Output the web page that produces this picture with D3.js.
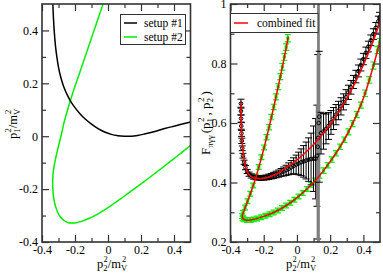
<!DOCTYPE html>
<html>
<head>
<meta charset="utf-8">
<script src="https://cdn.jsdelivr.net/npm/d3@7"></script>
<style>
  body { margin: 0; background: #fff; }
  svg { display: block; }
  svg text { font-family: "Liberation Serif", "Times New Roman", Times, "DejaVu Serif", serif !important; fill: #000; }
</style>
</head>
<body>
<div class="container"></div>
<script>
// ---- left panel: kinematic setups (p1^2 vs p2^2) ----
var setup1X = [-0.3365, -0.335, -0.333, -0.33, -0.325, -0.318, -0.31, -0.3, -0.285, -0.27, -0.25, -0.23, -0.2, -0.17, -0.14, -0.1, -0.06, -0.02, 0.02, 0.06, 0.1, 0.14, 0.18, 0.22, 0.26, 0.3, 0.35, 0.4, 0.45, 0.5];
var setup1Y = [0.56, 0.52, 0.48, 0.44, 0.39, 0.34, 0.3, 0.26, 0.22, 0.19, 0.16, 0.136, 0.108, 0.085, 0.066, 0.046, 0.029, 0.016, 0.007, 0.002, 0.0, 0.0, 0.003, 0.008, 0.014, 0.021, 0.03, 0.038, 0.046, 0.054];

var setup2X = [-0.03, -0.06, -0.09, -0.12, -0.15, -0.18, -0.21, -0.24, -0.265, -0.285, -0.305, -0.321, -0.331, -0.335, -0.334, -0.329, -0.318, -0.3, -0.275, -0.245, -0.215, -0.19, -0.16, -0.12, -0.08, -0.04, 0, 0.05, 0.1, 0.15, 0.2, 0.25, 0.3, 0.35, 0.4, 0.45, 0.5];
var setup2Y = [0.5, 0.445, 0.39, 0.335, 0.28, 0.225, 0.17, 0.11, 0.055, 0.0, -0.05, -0.095, -0.13, -0.165, -0.2, -0.235, -0.265, -0.295, -0.315, -0.326, -0.328, -0.327, -0.322, -0.312, -0.3, -0.286, -0.27, -0.248, -0.226, -0.203, -0.18, -0.157, -0.133, -0.109, -0.085, -0.06, -0.035];

// ---- right panel: form factor data, setup #1 (black) ----
var blackX = [-0.337, -0.337, -0.336, -0.335, -0.334, -0.332, -0.329, -0.325, -0.318, -0.31, -0.3, -0.288, -0.275, -0.26, -0.245, -0.23, -0.215, -0.2, -0.185, -0.17, -0.155, -0.14, -0.125, -0.11, -0.095, -0.08, -0.065, -0.05, -0.035, -0.02, -0.005, 0.01, 0.025, 0.04, 0.055, 0.07, 0.085, 0.1, 0.112,
              0.12, 0.125, 0.128, 0.131, 0.134,
              0.145, 0.16, 0.175, 0.19, 0.205, 0.22, 0.235, 0.25, 0.265, 0.28, 0.295, 0.31, 0.325, 0.34, 0.355, 0.37, 0.385, 0.4, 0.415, 0.43, 0.445, 0.46, 0.475, 0.49, 0.497];
var blackF = [0.665, 0.64, 0.615, 0.59, 0.565, 0.54, 0.515, 0.49, 0.468, 0.45, 0.437, 0.428, 0.422, 0.418, 0.416, 0.415, 0.415, 0.416, 0.417, 0.419, 0.421, 0.424, 0.427, 0.43, 0.434, 0.437, 0.441, 0.446, 0.451, 0.456, 0.46, 0.464, 0.468, 0.471, 0.474, 0.477, 0.479, 0.48, 0.48,
              0.49, 0.52, 0.55, 0.6, 0.621,
              0.566, 0.572, 0.58, 0.59, 0.602, 0.615, 0.628, 0.642, 0.656, 0.671, 0.687, 0.703, 0.72, 0.738, 0.756, 0.775, 0.795, 0.815, 0.836, 0.857, 0.878, 0.899, 0.92, 0.942, 0.955];
var blackErr = [0.015, 0.013, 0.012, 0.011, 0.01, 0.009, 0.008, 0.008, 0.007, 0.007, 0.007, 0.007, 0.007, 0.007, 0.007, 0.007, 0.007, 0.008, 0.008, 0.009, 0.009, 0.01, 0.011, 0.012, 0.013, 0.015, 0.017, 0.02, 0.023, 0.027, 0.032, 0.038, 0.045, 0.053, 0.062, 0.073, 0.087, 0.11, 0.135,
                0.17, 0.31, 0.8, 0.8, 0.22,
                0.07, 0.06, 0.05, 0.045, 0.04, 0.037, 0.034, 0.031, 0.029, 0.027, 0.025, 0.024, 0.023, 0.022, 0.021, 0.02, 0.02, 0.019, 0.019, 0.018, 0.018, 0.018, 0.018, 0.017, 0.017];

// ---- right panel: setup #2 (green) ----
var greenX = [-0.055, -0.065, -0.076, -0.088, -0.1, -0.113, -0.126, -0.14, -0.154, -0.168, -0.183, -0.198, -0.214, -0.23, -0.247, -0.264, -0.281, -0.298, -0.313, -0.325, -0.331,
              -0.327, -0.318, -0.3, -0.28, -0.26, -0.24, -0.215, -0.19, -0.165, -0.14, -0.115, -0.09, -0.065, -0.04, -0.015, 0.01, 0.035, 0.06, 0.085, 0.11, 0.135, 0.16, 0.185, 0.21, 0.235, 0.26, 0.285, 0.31, 0.335, 0.36, 0.385, 0.41, 0.435, 0.46, 0.485, 0.498];
var greenF = [0.885, 0.855, 0.822, 0.789, 0.756, 0.722, 0.688, 0.654, 0.62, 0.586, 0.552, 0.518, 0.485, 0.452, 0.42, 0.39, 0.362, 0.337, 0.316, 0.298, 0.287,
              0.279, 0.276, 0.274, 0.274, 0.276, 0.279, 0.283, 0.288, 0.293, 0.299, 0.306, 0.314, 0.323, 0.332, 0.342, 0.353, 0.365, 0.378, 0.392, 0.407, 0.423, 0.44, 0.458, 0.477, 0.498, 0.52, 0.544, 0.57, 0.598, 0.628, 0.66, 0.7, 0.745, 0.793, 0.845, 0.872];
var greenErr = [0.012, 0.011, 0.011, 0.011, 0.01, 0.01, 0.01, 0.009, 0.009, 0.009, 0.009, 0.008, 0.008, 0.008, 0.008, 0.008, 0.008, 0.008, 0.008, 0.008, 0.008,
                0.008, 0.008, 0.008, 0.008, 0.008, 0.008, 0.008, 0.008, 0.008, 0.008, 0.008, 0.008, 0.008, 0.008, 0.008, 0.008, 0.008, 0.008, 0.008, 0.008, 0.008, 0.009, 0.009, 0.009, 0.009, 0.009, 0.009, 0.01, 0.01, 0.01, 0.01, 0.011, 0.011, 0.012, 0.012, 0.012];

// ---- combined fit curves ----
var fit1X = [-0.337, -0.336, -0.334, -0.331, -0.326, -0.318, -0.307, -0.293, -0.275, -0.25, -0.22, -0.19, -0.16, -0.13, -0.1, -0.05, 0, 0.05, 0.1, 0.15, 0.2, 0.25, 0.3, 0.35, 0.4, 0.45, 0.5];
var fit1F = [0.668, 0.63, 0.59, 0.55, 0.51, 0.475, 0.448, 0.43, 0.42, 0.414, 0.413, 0.415, 0.42, 0.427, 0.437, 0.455, 0.476, 0.5, 0.528, 0.56, 0.596, 0.636, 0.682, 0.735, 0.795, 0.862, 0.94];
var fit2X = [-0.052, -0.08, -0.11, -0.14, -0.17, -0.2, -0.23, -0.26, -0.29, -0.315, -0.328, -0.327, -0.315, -0.29, -0.26, -0.2, -0.14, -0.08, -0.02, 0.04, 0.1, 0.16, 0.22, 0.28, 0.34, 0.4, 0.45, 0.5];
var fit2F = [0.89, 0.81, 0.73, 0.652, 0.58, 0.512, 0.45, 0.395, 0.348, 0.31, 0.29, 0.279, 0.275, 0.273, 0.276, 0.286, 0.299, 0.317, 0.34, 0.368, 0.4, 0.44, 0.486, 0.539, 0.604, 0.683, 0.772, 0.876];

var majorX = [-0.4, -0.2, 0, 0.2, 0.4];
var minorX = [-0.3, -0.1, 0.1, 0.3];
var leftMajorY = [-0.4, -0.2, 0, 0.2, 0.4];
var leftMinorY = [-0.3, -0.1, 0.1, 0.3];
var rightMajorY = [0.2, 0.4, 0.6, 0.8, 1];
var rightMinorY = [0.3, 0.5, 0.7, 0.9];

var W = 383, H = 274;
var frameColor = '#333';
var green = '#00ee00';
var serif = '"Liberation Serif", "Times New Roman", Times, "DejaVu Serif", serif';

var svg = d3.select('.container').append('svg')
    .attr('width', W).attr('height', H)
    .attr('font-family', serif);

function fmt(d) {
    if (d === 0) return '0';
    if (d === 1) return '1';
    return d.toFixed(1);
}

function zip(xs, ys) {
    return xs.map(function (x, i) { return [x, ys[i]]; });
}

function drawFrame(g, x, y, xMaj, xMin, yMaj, yMin) {
    var x0 = x.range()[0], x1 = x.range()[1];
    var y0 = y.range()[1], y1 = y.range()[0];

    g.append('g').attr('transform', 'translate(0,' + y1 + ')')
        .call(d3.axisBottom(x).tickValues(xMaj).tickSize(-7).tickPadding(3).tickFormat(fmt));
    g.append('g').attr('transform', 'translate(0,' + y1 + ')')
        .call(d3.axisBottom(x).tickValues(xMin).tickSize(-4).tickFormat(''));
    g.append('g').attr('transform', 'translate(0,' + y0 + ')')
        .call(d3.axisTop(x).tickValues(xMaj).tickSize(-7).tickFormat(''));
    g.append('g').attr('transform', 'translate(0,' + y0 + ')')
        .call(d3.axisTop(x).tickValues(xMin).tickSize(-4).tickFormat(''));

    g.append('g').attr('transform', 'translate(' + x0 + ',0)')
        .call(d3.axisLeft(y).tickValues(yMaj).tickSize(-7).tickPadding(4).tickFormat(fmt));
    g.append('g').attr('transform', 'translate(' + x0 + ',0)')
        .call(d3.axisLeft(y).tickValues(yMin).tickSize(-4).tickFormat(''));
    g.append('g').attr('transform', 'translate(' + x1 + ',0)')
        .call(d3.axisRight(y).tickValues(yMaj).tickSize(-7).tickFormat(''));
    g.append('g').attr('transform', 'translate(' + x1 + ',0)')
        .call(d3.axisRight(y).tickValues(yMin).tickSize(-4).tickFormat(''));

    g.selectAll('.domain').remove();
    g.selectAll('g').attr('font-family', serif);
    g.selectAll('.tick line').attr('stroke', frameColor).attr('stroke-width', 1.2);
    g.selectAll('.tick text').attr('font-size', 12).attr('fill', '#000');

    g.append('rect')
        .attr('x', x0).attr('y', y0)
        .attr('width', x1 - x0).attr('height', y1 - y0)
        .attr('fill', 'none').attr('stroke', frameColor).attr('stroke-width', 1.6);
}

// writes p_a^2/m_V^2 style label
function kinLabel(t, idx) {
    t.append('tspan').text('p');
    t.append('tspan').attr('dy', 3).attr('font-size', 8.5).text(idx);
    t.append('tspan').attr('dx', -4).attr('dy', -9).attr('font-size', 8.5).text('2');
    t.append('tspan').attr('dy', 6).text('/m');
    t.append('tspan').attr('dy', 3).attr('font-size', 8.5).text('V');
    t.append('tspan').attr('dx', -5).attr('dy', -9).attr('font-size', 8.5).text('2');
}

function addClip(id, x, y) {
    svg.append('defs').append('clipPath').attr('id', id)
        .append('rect')
        .attr('x', x.range()[0]).attr('y', y.range()[1])
        .attr('width', x.range()[1] - x.range()[0])
        .attr('height', y.range()[0] - y.range()[1]);
}

// ================= left panel =================
var xL = d3.scaleLinear().domain([-0.4, 0.5]).range([42, 190.5]);
var yL = d3.scaleLinear().domain([-0.4, 0.5]).range([242, 4]);
addClip('clipL', xL, yL);

var lineL = d3.line()
    .x(function (d) { return xL(d[0]); })
    .y(function (d) { return yL(d[1]); })
    .curve(d3.curveCatmullRom);

var gL = svg.append('g');
var plotL = gL.append('g').attr('clip-path', 'url(#clipL)');
plotL.append('path').datum(zip(setup2X, setup2Y))
    .attr('d', lineL).attr('fill', 'none').attr('stroke', green).attr('stroke-width', 1.5);
plotL.append('path').datum(zip(setup1X, setup1Y))
    .attr('d', lineL).attr('fill', 'none').attr('stroke', '#000').attr('stroke-width', 1.5);

drawFrame(gL, xL, yL, majorX, minorX, leftMajorY, leftMinorY);

// legend
var legL = gL.append('g');
legL.append('rect').attr('x', 120.5).attr('y', 14.5).attr('width', 65).attr('height', 30)
    .attr('fill', '#fff').attr('stroke', frameColor).attr('stroke-width', 1);
[['setup #1', '#000'], ['setup #2', green]].forEach(function (e, i) {
    var yy = 23 + i * 14;
    legL.append('line').attr('x1', 124).attr('x2', 137).attr('y1', yy).attr('y2', yy)
        .attr('stroke', e[1]).attr('stroke-width', 1.5);
    legL.append('text').attr('x', 144).attr('y', yy + 4).attr('font-size', 11.5).text(e[0]);
});

var tx = gL.append('text').attr('x', 112).attr('y', 268).attr('font-size', 12.5).attr('text-anchor', 'middle');
kinLabel(tx, '2');
var ty = gL.append('text').attr('transform', 'translate(17,124) rotate(-90)')
    .attr('font-size', 12.5).attr('text-anchor', 'middle');
kinLabel(ty, '1');

// ================= right panel =================
var xR = d3.scaleLinear().domain([-0.4, 0.5]).range([230.5, 380]);
var yR = d3.scaleLinear().domain([0.2, 1]).range([242, 4]);
addClip('clipR', xR, yR);

var lineR = d3.line()
    .x(function (d) { return xR(d[0]); })
    .y(function (d) { return yR(d[1]); })
    .curve(d3.curveCatmullRom);

var gR = svg.append('g');
var plotR = gR.append('g').attr('clip-path', 'url(#clipR)');

function errorBars(g, xs, fs, es, color, cap, width) {
    var pts = xs.map(function (x, i) { return { x: x, f: fs[i], e: es[i] }; });
    var eb = g.append('g').attr('fill', 'none');
    pts.forEach(function (p) {
        var px = xR(p.x), top = yR(p.f + p.e), bot = yR(p.f - p.e);
        var big = p.e > 0.15;
        var c = big ? '#808080' : color;
        eb.append('line').attr('x1', px).attr('x2', px).attr('y1', top).attr('y2', bot)
            .attr('stroke', c).attr('stroke-width', big ? 2.2 : width);
        eb.append('line').attr('x1', px - cap).attr('x2', px + cap).attr('y1', top).attr('y2', top)
            .attr('stroke', color).attr('stroke-width', width);
        eb.append('line').attr('x1', px - cap).attr('x2', px + cap).attr('y1', bot).attr('y2', bot)
            .attr('stroke', color).attr('stroke-width', width);
    });
    return pts;
}

var gPts = errorBars(plotR, greenX, greenF, greenErr, green, 3, 1.2);
plotR.append('g').selectAll('rect').data(gPts).enter().append('rect')
    .attr('x', function (d) { return xR(d.x) - 1.6; })
    .attr('y', function (d) { return yR(d.f) - 1.6; })
    .attr('width', 3.2).attr('height', 3.2)
    .attr('fill', green);

var bPts = errorBars(plotR, blackX, blackF, blackErr, '#000', 3.5, 1);
plotR.append('g').selectAll('circle').data(bPts).enter().append('circle')
    .attr('cx', function (d) { return xR(d.x); })
    .attr('cy', function (d) { return yR(d.f); })
    .attr('r', 1.8)
    .attr('fill', 'none').attr('stroke', '#000').attr('stroke-width', 1);

plotR.append('path').datum(zip(fit1X, fit1F))
    .attr('d', lineR).attr('fill', 'none').attr('stroke', '#ff0000').attr('stroke-width', 1.5);
plotR.append('path').datum(zip(fit2X, fit2F))
    .attr('d', lineR).attr('fill', 'none').attr('stroke', '#ff0000').attr('stroke-width', 1.5);

drawFrame(gR, xR, yR, majorX, minorX, rightMajorY, rightMinorY);

var legR = gR.append('g');
legR.append('rect').attr('x', 230.5).attr('y', 13.5).attr('width', 87.5).attr('height', 19)
    .attr('fill', '#fff').attr('stroke', frameColor).attr('stroke-width', 1);
legR.append('line').attr('x1', 234).attr('x2', 248).attr('y1', 23).attr('y2', 23)
    .attr('stroke', '#ff0000').attr('stroke-width', 1.5);
legR.append('text').attr('x', 257).attr('y', 27).attr('font-size', 11.5).text('combined fit');

var txR = gR.append('text').attr('x', 301).attr('y', 268).attr('font-size', 12.5).attr('text-anchor', 'middle');
kinLabel(txR, '2');

var tyR = gR.append('text').attr('transform', 'translate(210,123) rotate(-90)')
    .attr('font-size', 13).attr('text-anchor', 'middle');
tyR.append('tspan').text('F');
tyR.append('tspan').attr('dy', 3).attr('font-size', 9).text('\u03c0\u03b3\u03b3');
tyR.append('tspan').attr('dx', 2).attr('dy', -3).text('(p');
tyR.append('tspan').attr('dy', 3).attr('font-size', 9).text('1');
tyR.append('tspan').attr('dx', -4).attr('dy', -9).attr('font-size', 9).text('2');
tyR.append('tspan').attr('dx', 2).attr('dy', 6).text(',\u00a0p');
tyR.append('tspan').attr('dy', 3).attr('font-size', 9).text('2');
tyR.append('tspan').attr('dx', -4).attr('dy', -9).attr('font-size', 9).text('2');
tyR.append('tspan').attr('dx', 2).attr('dy', 6).text(')');
</script>
</body>
</html>
